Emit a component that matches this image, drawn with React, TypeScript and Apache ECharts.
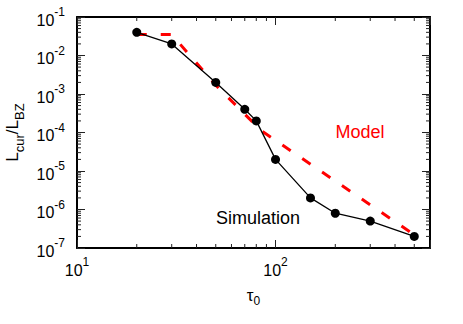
import React, { useEffect, useRef } from 'react';
import * as echarts from 'echarts';

// Data
const tau = [20, 30, 50, 70, 80, 100, 150, 200, 300, 500];
const simulation = [0.04, 0.02, 0.002, 4e-4, 2e-4, 2e-5, 2e-6, 8e-7, 5e-7, 2e-7];
const modelTau = [20, 30, 50, 85, 500];
const modelRatio = [0.035, 0.035, 1.7e-3, 1.1e-4, 2.2e-7];

// Axis ranges and minor tick values
const xMin = 10;
const xMax = 600;
const yMin = 1e-7;
const yMax = 1e-1;
const xMinorTicks = [20, 30, 40, 50, 60, 70, 80, 90, 200, 300, 400, 500];
const yDecades = [-7, -6, -5, -4, -3, -2];
const yMultipliers = [2, 3, 4, 5, 6, 7, 8, 9];
const yMinorTicks: number[] = [];
yDecades.forEach((d) => yMultipliers.forEach((m) => yMinorTicks.push(m * Math.pow(10, d))));

const FONT = "'Liberation Sans', Arial, Helvetica, sans-serif";

const powLabel = (v: number) => {
  const e = Math.log10(v);
  const r = Math.round(e);
  if (Math.abs(e - r) > 1e-6) return '';
  return `{b|10}{s|${r}}`;
};

const labelRich = {
  b: { fontSize: 16, fontFamily: FONT, color: '#000', lineHeight: 22, verticalAlign: 'bottom' },
  s: { fontSize: 12, fontFamily: FONT, color: '#000', lineHeight: 10, verticalAlign: 'top' },
};

export default function App() {
  const ref = useRef<HTMLDivElement>(null);
  useEffect(() => {
    if (!ref.current) return;
    const chart = echarts.init(ref.current, undefined, { renderer: 'svg' });
    const axisLine = { show: true, onZero: false, lineStyle: { color: '#000', width: 2 } };
    const axisTick = { show: true, inside: true, length: 8, lineStyle: { color: '#222', width: 1 } };
    const minorTickSeries = (axis: 'x' | 'y') => ({
      type: 'custom',
      silent: true,
      clip: false,
      z: 5,
      data: axis === 'x' ? xMinorTicks.map((v) => [v, yMin]) : yMinorTicks.map((v) => [xMin, v]),
      renderItem: (params: any, api: any) => {
        const cs = params.coordSys;
        const style = { stroke: '#222', lineWidth: 1 };
        if (axis === 'x') {
          const p = api.coord([api.value(0), yMin]);
          const b = cs.y + cs.height;
          return {
            type: 'group',
            children: [
              { type: 'line', shape: { x1: p[0], y1: b, x2: p[0], y2: b - 4 }, style },
              { type: 'line', shape: { x1: p[0], y1: cs.y, x2: p[0], y2: cs.y + 4 }, style },
            ],
          };
        }
        const p = api.coord([xMin, api.value(1)]);
        const r = cs.x + cs.width;
        return {
          type: 'group',
          children: [
            { type: 'line', shape: { x1: cs.x, y1: p[1], x2: cs.x + 4, y2: p[1] }, style },
            { type: 'line', shape: { x1: r, y1: p[1], x2: r - 4, y2: p[1] }, style },
          ],
        };
      },
    });
    chart.setOption({
      animation: false,
      backgroundColor: '#fff',
      grid: { left: 77, right: 33, top: 17, bottom: 76, containLabel: false, outerBoundsMode: 'none' },
      xAxis: [
        {
          type: 'log',
          logBase: 10,
          min: xMin,
          max: xMax,
          position: 'bottom',
          axisLine,
          axisTick,
          splitLine: { show: false },
          axisLabel: { formatter: powLabel, margin: 8, rich: labelRich, color: '#000' },
          name: '{t|τ}{u|0}',
          nameLocation: 'middle',
          nameGap: 39,
          nameTextStyle: {
            rich: {
              t: { fontSize: 17, fontFamily: FONT, color: '#000', lineHeight: 20, verticalAlign: 'top' },
              u: { fontSize: 12, fontFamily: FONT, color: '#000', lineHeight: 12, verticalAlign: 'bottom' },
            },
          },
        },
        {
          type: 'log',
          logBase: 10,
          min: xMin,
          max: xMax,
          position: 'top',
          axisLine,
          axisTick,
          splitLine: { show: false },
          axisLabel: { show: false },
        },
      ],
      yAxis: [
        {
          type: 'log',
          logBase: 10,
          min: yMin,
          max: yMax,
          position: 'left',
          axisLine,
          axisTick,
          splitLine: { show: false },
          axisLabel: { formatter: powLabel, margin: 12, rich: labelRich, color: '#000' },
          name: '{b|L}{s|cur}{b|/L}{s|BZ}',
          nameLocation: 'middle',
          nameRotate: 90,
          nameGap: 51,
          nameTextStyle: {
            rich: {
              b: { fontSize: 17, fontFamily: FONT, color: '#000', lineHeight: 22, verticalAlign: 'top' },
              s: { fontSize: 13, fontFamily: FONT, color: '#000', lineHeight: 13, verticalAlign: 'bottom' },
            },
          },
        },
        {
          type: 'log',
          logBase: 10,
          min: yMin,
          max: yMax,
          position: 'right',
          axisLine,
          axisTick,
          splitLine: { show: false },
          axisLabel: { show: false },
        },
      ],
      graphic: [
        {
          type: 'text',
          x: 360,
          y: 132,
          style: { text: 'Model', fill: '#ff0000', font: `18px ${FONT}`, textAlign: 'center', textVerticalAlign: 'middle' },
        },
        {
          type: 'text',
          x: 258,
          y: 218,
          style: { text: 'Simulation', fill: '#000', font: `18px ${FONT}`, textAlign: 'center', textVerticalAlign: 'middle' },
        },
      ],
      series: [
        minorTickSeries('x'),
        minorTickSeries('y'),
        {
          name: 'Model',
          type: 'line',
          data: modelTau.map((t, i) => [t, modelRatio[i]]),
          showSymbol: false,
          symbol: 'none',
          lineStyle: { color: '#ff0000', width: 3, type: [10, 14] },
          z: 3,
        },
        {
          name: 'Simulation',
          type: 'line',
          data: tau.map((t, i) => [t, simulation[i]]),
          symbol: 'circle',
          symbolSize: 9,
          itemStyle: { color: '#000' },
          lineStyle: { color: '#000', width: 1.3 },
          z: 4,
        },
      ],
    });
    return () => chart.dispose();
  }, []);
  return <div ref={ref} style={{ position: 'fixed', left: 0, top: 0, width: 463, height: 324 }} />;
}
